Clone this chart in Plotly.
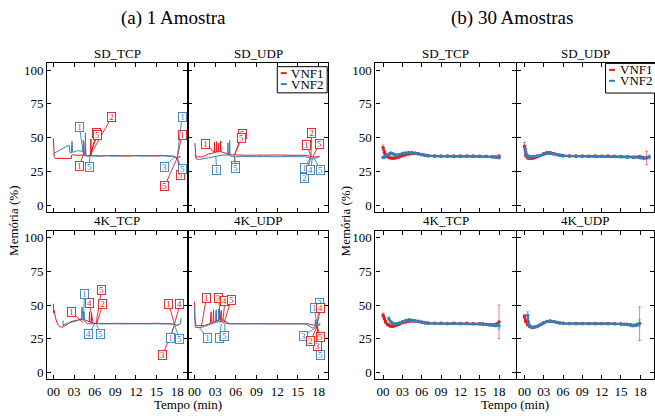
import plotly.graph_objects as go

RED = "#E41A1C"
BLUE = "#377EB8"
RED_ERR = "rgba(228,26,28,0.55)"
BLUE_ERR = "rgba(55,126,184,0.55)"
FONT = "'Liberation Serif', 'Times New Roman', Times, serif"
W, H = 655, 416

group_titles = ["(a) 1 Amostra", "(b) 30 Amostras"]
facet_titles = ["SD_TCP", "SD_UDP", "4K_TCP", "4K_UDP"]
series_names = ["VNF1", "VNF2"]
y_ticks = [0, 25, 50, 75, 100]
x_ticks = [0, 3, 6, 9, 12, 15, 18]
x_tick_text = ["00", "03", "06", "09", "12", "15", "18"]

# ---------------- (a) 1 Amostra ----------------
# SD_TCP
a_sdtcp_vnf1_t = [0.0, 0.05, 0.12, 0.3, 1.0, 2.0, 2.6, 2.65, 3.0, 3.5, 4.0, 4.35, 4.4, 4.45, 4.6, 4.65, 4.7, 5.0,
                  5.4, 5.45, 5.5, 6.0, 7.0, 8.0, 9.0, 10.0, 11.0, 12.0, 13.0, 14.0, 15.0, 16.0, 17.0, 17.5,
                  17.8, 18.0, 18.2, 18.4]
a_sdtcp_vnf1_v = [49.5, 42.0, 36.0, 34.5, 34.6, 34.5, 34.6, 37.0, 37.2, 36.9, 37.1, 37.0, 46.5, 37.0, 36.8, 45.0,
                  36.6, 36.5, 36.6, 49.0, 36.4, 36.6, 36.3, 36.7, 36.4, 36.6, 36.3, 36.7, 36.4, 36.6, 36.3, 36.7,
                  36.4, 36.2, 35.5, 34.8, 35.6, 35.9]
a_sdtcp_vnf2_t = [0.0, 0.5, 1.0, 1.5, 2.0, 2.3, 2.4, 2.6, 2.7, 2.8, 3.0, 3.5, 4.0, 4.3, 4.35, 4.4, 4.6, 4.65,
                  4.7, 4.9, 5.5, 6.5, 7.5, 8.5, 9.5, 10.5, 11.5, 12.5, 13.5, 14.5, 15.5, 16.5, 17.3, 17.7,
                  18.0, 18.3, 18.5]
a_sdtcp_vnf2_v = [38.0, 39.5, 41.0, 42.5, 43.8, 44.2, 38.8, 38.5, 47.5, 39.0, 39.5, 40.3, 40.0, 39.8, 48.0,
                  39.0, 37.0, 53.5, 36.5, 36.2, 36.5, 36.2, 36.6, 36.3, 36.5, 36.2, 36.6, 36.3, 36.5, 36.2,
                  36.6, 36.3, 36.0, 35.2, 34.5, 35.4, 36.0]
# SD_UDP
a_sdudp_vnf1_t = [0.05, 0.1, 0.2, 0.5, 1.0, 1.5, 2.0, 2.5, 2.85, 2.9, 2.95, 3.15, 3.2, 3.25, 3.45, 3.5, 3.55,
                  3.75, 3.8, 3.85, 4.2, 4.6, 5.0, 5.4, 5.8, 6.5, 7.5, 8.5, 9.5, 10.5, 11.5, 12.5, 13.5, 14.5,
                  15.5, 16.2, 16.6, 17.0, 17.4, 17.8, 18.1]
a_sdudp_vnf1_v = [46.0, 42.0, 35.5, 35.8, 35.6, 36.4, 37.8, 38.3, 38.8, 46.5, 39.0, 39.2, 47.0, 39.3, 39.4,
                  46.0, 39.5, 39.6, 47.5, 39.4, 39.0, 38.2, 37.6, 37.2, 37.0, 37.1, 36.9, 37.0, 37.1, 36.9,
                  37.0, 37.1, 36.9, 37.0, 37.1, 36.9, 36.3, 35.8, 35.6, 35.8, 36.0]
a_sdudp_vnf2_t = [0.05, 0.3, 0.7, 1.0, 1.5, 2.0, 2.5, 3.0, 3.5, 3.9, 4.3, 4.8, 4.85, 4.9, 5.05, 5.1, 5.15,
                  5.3, 5.6, 6.0, 7.0, 8.0, 9.0, 10.0, 11.0, 12.0, 13.0, 14.0, 15.0, 16.0, 16.6, 17.1, 17.5,
                  17.9, 18.2]
a_sdudp_vnf2_v = [37.0, 34.0, 33.8, 34.2, 34.6, 35.0, 35.5, 36.0, 36.5, 37.0, 37.2, 37.0, 46.0, 37.0, 36.6,
                  47.8, 36.5, 36.2, 35.9, 35.8, 35.9, 35.7, 35.8, 35.9, 35.7, 35.8, 35.9, 35.7, 35.8, 35.9,
                  35.2, 34.0, 34.6, 35.6, 36.0]
# 4K_TCP
a_4ktcp_vnf1_t = [0.0, 0.05, 0.1, 0.3, 0.6, 0.9, 1.2, 1.5, 2.0, 2.5, 3.0, 3.5, 4.0, 4.3, 4.6, 5.0, 5.2, 5.25,
                  5.3, 5.5, 5.55, 5.6, 5.8, 6.2, 6.5, 7.0, 8.0, 9.0, 10.0, 11.0, 12.0, 13.0, 14.0, 15.0, 16.0,
                  17.0, 17.5, 17.9, 18.3]
a_4ktcp_vnf1_v = [51.0, 44.0, 46.0, 40.5, 36.0, 34.0, 33.6, 34.0, 35.8, 37.5, 38.3, 38.8, 39.2, 39.5, 39.0,
                  38.0, 37.5, 45.0, 37.2, 37.0, 44.0, 36.8, 36.5, 36.4, 36.3, 36.5, 36.2, 36.4, 36.3, 36.5,
                  36.2, 36.4, 36.3, 36.5, 36.2, 36.3, 35.8, 35.0, 35.5]
a_4ktcp_vnf2_t = [1.4, 1.42, 1.5, 2.0, 2.5, 3.0, 3.5, 3.8, 4.1, 4.15, 4.2, 4.3, 4.4, 4.45, 4.5, 4.7, 5.0, 5.5,
                  6.0, 7.0, 8.0, 9.0, 10.0, 11.0, 12.0, 13.0, 14.0, 15.0, 16.0, 17.0, 17.5, 17.9, 18.3, 18.5,
                  18.55]
a_4ktcp_vnf2_v = [38.5, 34.6, 35.5, 36.3, 37.0, 37.8, 38.5, 39.5, 40.0, 48.5, 40.0, 39.8, 40.0, 45.0, 39.0,
                  37.0, 36.2, 36.0, 36.2, 36.0, 36.3, 36.1, 36.0, 36.3, 36.1, 36.0, 36.3, 36.1, 36.0, 36.2,
                  35.6, 34.8, 35.8, 36.0, 40.5]
# 4K_UDP
a_4kudp_vnf1_t = [0.0, 0.05, 0.2, 0.6, 1.0, 1.45, 2.0, 2.3, 2.4, 2.45, 2.7, 2.75, 2.8, 3.1, 3.15, 3.2, 3.5,
                  3.55, 3.6, 3.85, 3.9, 3.95, 4.3, 4.7, 5.0, 6.0, 7.0, 8.0, 9.0, 10.0, 11.0, 12.0, 13.0, 14.0,
                  15.0, 16.0, 16.5, 17.0, 17.5, 17.9, 18.2]
a_4kudp_vnf1_v = [52.5, 40.0, 34.6, 34.7, 34.6, 34.8, 35.8, 36.5, 45.0, 36.8, 37.2, 46.5, 37.5, 38.0, 45.5,
                  38.3, 38.8, 47.0, 39.2, 39.5, 46.0, 39.4, 38.5, 37.0, 36.3, 36.1, 36.2, 36.0, 36.1, 36.2,
                  36.0, 36.1, 36.2, 36.0, 36.1, 36.2, 36.1, 35.4, 34.8, 34.6, 35.6]
a_4kudp_vnf2_t = [0.0, 0.05, 0.1, 0.5, 1.0, 1.5, 2.2, 2.7, 3.1, 3.15, 3.2, 3.45, 3.5, 3.55, 3.8, 3.85, 3.9,
                  4.1, 4.5, 5.0, 6.0, 7.0, 8.0, 9.0, 10.0, 11.0, 12.0, 13.0, 14.0, 15.0, 16.0, 16.5, 17.1,
                  17.5, 17.55, 17.6, 18.0, 18.3]
a_4kudp_vnf2_v = [47.5, 38.0, 33.5, 33.3, 33.4, 34.2, 35.8, 36.5, 37.0, 46.5, 37.2, 37.5, 46.7, 37.6, 37.8,
                  45.0, 37.6, 37.0, 36.3, 36.0, 36.1, 35.9, 36.0, 36.1, 35.9, 36.0, 36.1, 35.9, 36.0, 36.1,
                  36.0, 35.0, 33.0, 34.0, 39.0, 34.5, 36.0, 36.2]

# labelled events (number, target time, target value, label time, label value)
a_sdtcp_vnf1_events = [(2, 5.3, 36.5, 8.5, 65.4), (5, 5.3, 36.5, 6.3, 53.5), (5, 5.3, 36.5, 6.4, 52.0),
                       (1, 4.3, 37.0, 3.8, 28.9), (5, 18.0, 35.0, 18.5, 22.5), (1, 18.0, 35.0, 18.7, 52.0),
                       (5, 18.0, 35.0, 16.2, 14.3)]
a_sdtcp_vnf2_events = [(1, 4.3, 40.0, 3.8, 57.6), (5, 5.3, 36.2, 5.2, 27.9), (1, 18.0, 35.0, 18.7, 65.0),
                       (3, 17.5, 35.2, 16.2, 28.4), (5, 18.0, 35.0, 18.7, 26.4)]
a_sdudp_vnf1_events = [(1, 3.0, 38.5, 1.55, 45.2), (5, 5.8, 37.0, 6.9, 52.5), (5, 5.8, 37.0, 6.8, 49.4),
                       (2, 16.9, 36.0, 17.0, 53.1), (1, 16.9, 36.0, 16.3, 44.4), (5, 17.2, 36.0, 18.1, 45.2)]
a_sdudp_vnf2_events = [(1, 3.1, 35.8, 3.2, 25.9), (5, 5.8, 35.8, 5.9, 28.8), (5, 5.8, 35.8, 6.0, 27.6),
                       (1, 16.9, 35.5, 15.9, 27.2), (2, 16.9, 35.5, 16.0, 19.7), (4, 17.1, 35.5, 16.9, 25.9),
                       (5, 17.3, 35.5, 18.3, 25.9)]
a_4ktcp_vnf1_events = [(1, 4.3, 37.0, 2.6, 44.9), (4, 5.8, 36.3, 5.2, 51.3), (5, 6.2, 36.3, 7.0, 61.2),
                       (2, 6.3, 36.3, 7.2, 50.6), (1, 17.6, 35.8, 16.8, 50.6), (4, 17.6, 35.8, 18.4, 50.6),
                       (3, 17.6, 35.0, 15.9, 13.0)]
a_4ktcp_vnf2_events = [(1, 4.35, 38.2, 4.5, 58.0), (4, 6.0, 35.8, 5.1, 28.4), (5, 6.3, 35.8, 6.8, 28.4),
                       (1, 17.6, 35.0, 17.0, 25.9), (5, 17.6, 35.0, 18.4, 24.7)]
a_4kudp_vnf1_events = [(1, 1.0, 34.0, 1.7, 55.0), (3, 3.8, 37.0, 3.5, 55.0), (4, 4.1, 37.0, 4.4, 53.0),
                       (5, 4.3, 37.0, 5.3, 53.5), (5, 17.8, 34.5, 18.3, 26.0), (3, 17.8, 34.5, 17.8, 19.7),
                       (2, 17.8, 34.5, 16.9, 23.4)]
a_4kudp_vnf2_events = [(1, 0.7, 33.3, 1.9, 25.2), (1, 3.9, 36.0, 3.6, 25.2), (5, 4.4, 36.0, 4.4, 27.1),
                       (3, 17.8, 34.0, 15.8, 27.1), (3, 17.8, 34.0, 18.1, 51.8), (1, 17.8, 34.0, 17.4, 48.1),
                       (5, 17.8, 34.0, 18.3, 12.8)]
a_4kudp_vnf1_events_top = [(4, 17.8, 35.8, 18.3, 47.6)]

# ---------------- (b) 30 Amostras ----------------
b_sdtcp_vnf1_t = [0.0, 0.2, 0.4, 0.6, 0.9, 1.2, 1.5, 1.8, 2.1, 2.5, 3.0, 3.5, 4.0, 4.5, 5.0, 5.5, 6.0, 6.5,
                  7.0, 8.0, 9.0, 10.0, 11.0, 12.0, 13.0, 14.0, 15.0, 16.0, 17.0, 17.5, 18.0]
b_sdtcp_vnf1_v = [42.5, 39.0, 37.0, 36.0, 35.3, 34.9, 34.7, 34.8, 35.1, 35.7, 36.5, 37.2, 37.8, 38.2, 38.3,
                  38.0, 37.5, 37.0, 36.6, 36.3, 36.3, 36.2, 36.3, 36.2, 36.3, 36.2, 36.2, 36.1, 35.8, 35.6, 35.9]
b_sdtcp_vnf1_e = [2.0, 1.5, 1.0, 0.8, 0.6, 0.5, 0.5, 0.5, 0.5, 0.5, 0.5, 0.5, 0.5, 0.5, 0.5, 0.5, 0.5, 0.4,
                  0.4, 0.3, 0.3, 0.3, 0.3, 0.3, 0.3, 0.3, 0.3, 0.4, 0.5, 0.6, 1.5]
b_sdtcp_vnf2_t = [0.0, 0.2, 0.4, 0.6, 0.9, 1.2, 1.5, 1.8, 2.1, 2.5, 3.0, 3.5, 4.0, 4.5, 5.0, 5.5, 6.0, 6.5,
                  7.0, 8.0, 9.0, 10.0, 11.0, 12.0, 13.0, 14.0, 15.0, 16.0, 17.0, 17.5, 18.0]
b_sdtcp_vnf2_v = [35.3, 35.6, 36.2, 37.0, 37.6, 38.4, 38.0, 37.2, 37.0, 37.5, 38.3, 38.6, 38.9, 38.9, 38.4,
                  37.8, 37.2, 36.8, 36.5, 36.3, 36.2, 36.3, 36.2, 36.3, 36.2, 36.3, 36.2, 36.0, 35.7, 35.5, 35.3]
b_sdtcp_vnf2_e = [0.8, 0.8, 0.9, 1.0, 1.0, 1.0, 0.8, 0.7, 0.6, 0.6, 0.6, 0.6, 0.6, 0.5, 0.5, 0.5, 0.4, 0.4,
                  0.4, 0.3, 0.3, 0.3, 0.3, 0.3, 0.3, 0.3, 0.3, 0.4, 0.5, 0.6, 1.0]
b_sdudp_vnf1_t = [0.0, 0.2, 0.5, 0.8, 1.2, 1.6, 2.0, 2.5, 3.0, 3.5, 4.0, 4.5, 5.0, 5.5, 6.0, 7.0, 8.0, 9.0,
                  10.0, 11.0, 12.0, 13.0, 14.0, 15.0, 16.0, 17.0, 17.9, 18.4, 19.0]
b_sdudp_vnf1_v = [43.5, 37.0, 35.0, 34.6, 34.6, 35.0, 35.8, 36.8, 38.0, 38.8, 38.8, 38.2, 37.5, 37.0, 36.6,
                  36.4, 36.3, 36.3, 36.2, 36.3, 36.2, 36.3, 36.2, 36.0, 35.8, 35.5, 35.8, 35.2, 35.0]
b_sdudp_vnf1_e = [3.0, 1.5, 1.0, 0.7, 0.6, 0.5, 0.5, 0.5, 0.5, 0.5, 0.5, 0.5, 0.4, 0.4, 0.4, 0.3, 0.3, 0.3,
                  0.3, 0.3, 0.3, 0.3, 0.3, 0.4, 0.4, 0.5, 1.0, 1.0, 5.0]
b_sdudp_vnf2_t = [0.15, 0.3, 0.6, 0.9, 1.2, 1.6, 2.0, 2.5, 3.0, 3.5, 4.0, 4.5, 5.0, 5.5, 6.0, 7.0, 8.0, 9.0,
                  10.0, 11.0, 12.0, 13.0, 14.0, 15.0, 16.0, 17.0, 18.0, 18.6, 19.4]
b_sdudp_vnf2_v = [41.5, 37.5, 36.0, 35.6, 35.8, 36.0, 36.3, 36.8, 37.6, 38.2, 38.2, 37.8, 37.2, 36.8, 36.5,
                  36.3, 36.2, 36.2, 36.1, 36.2, 36.1, 36.2, 36.0, 35.8, 35.5, 35.3, 35.0, 34.6, 35.6]
b_sdudp_vnf2_e = [3.0, 2.0, 1.2, 0.8, 0.7, 0.6, 0.6, 0.5, 0.5, 0.5, 0.5, 0.5, 0.4, 0.4, 0.4, 0.3, 0.3, 0.3,
                  0.3, 0.3, 0.3, 0.3, 0.3, 0.4, 0.4, 0.5, 0.6, 0.8, 1.5]
b_4ktcp_vnf1_t = [0.0, 0.2, 0.4, 0.7, 1.0, 1.3, 1.6, 2.0, 2.5, 3.0, 3.5, 4.0, 4.5, 5.0, 5.5, 6.0, 6.5, 7.0,
                  8.0, 9.0, 10.0, 11.0, 12.0, 13.0, 14.0, 15.0, 15.5, 16.0, 16.5, 17.0, 17.5, 18.0]
b_4ktcp_vnf1_v = [42.5, 40.0, 37.5, 35.5, 34.6, 34.2, 34.3, 34.8, 35.8, 36.8, 37.5, 38.0, 38.2, 38.2, 37.9,
                  37.4, 36.9, 36.6, 36.4, 36.4, 36.3, 36.4, 36.3, 36.4, 36.3, 36.2, 36.0, 35.6, 35.4, 35.2,
                  35.5, 37.5]
b_4ktcp_vnf1_e = [1.5, 1.2, 1.0, 0.8, 0.6, 0.5, 0.5, 0.5, 0.5, 0.5, 0.5, 0.5, 0.5, 0.5, 0.5, 0.4, 0.4, 0.4,
                  0.3, 0.3, 0.3, 0.3, 0.3, 0.3, 0.3, 0.4, 0.4, 0.5, 0.5, 0.6, 1.0, 12.5]
b_4ktcp_vnf2_t = [0.9, 1.2, 1.5, 2.0, 2.5, 3.0, 3.5, 4.0, 4.5, 5.0, 5.5, 6.0, 6.5, 7.0, 8.0, 9.0, 10.0, 11.0,
                  12.0, 13.0, 14.0, 15.0, 15.5, 16.0, 16.5, 17.0, 17.5, 18.0]
b_4ktcp_vnf2_v = [39.8, 37.5, 36.5, 36.0, 36.6, 37.6, 38.6, 39.0, 38.8, 38.2, 37.6, 37.0, 36.6, 36.4, 36.3,
                  36.3, 36.2, 36.3, 36.2, 36.3, 36.2, 36.1, 35.9, 35.6, 35.2, 35.0, 34.8, 34.6]
b_4ktcp_vnf2_e = [1.5, 1.0, 0.8, 0.6, 0.6, 0.6, 0.6, 0.6, 0.5, 0.5, 0.5, 0.4, 0.4, 0.4, 0.3, 0.3, 0.3, 0.3,
                  0.3, 0.3, 0.3, 0.4, 0.4, 0.5, 0.6, 0.7, 1.0, 2.5]
b_4kudp_vnf1_t = [0.0, 0.2, 0.5, 0.8, 1.1, 1.4, 1.8, 2.2, 2.6, 3.0, 3.5, 4.0, 4.5, 5.0, 5.5, 6.0, 7.0, 8.0,
                  9.0, 10.0, 11.0, 12.0, 13.0, 14.0, 15.0, 15.5, 16.0, 16.5, 17.0, 17.5, 17.9]
b_4kudp_vnf1_v = [41.5, 38.0, 35.5, 34.0, 33.3, 33.3, 33.8, 34.6, 35.8, 36.8, 37.8, 38.2, 37.8, 37.2, 36.7,
                  36.4, 36.3, 36.2, 36.3, 36.2, 36.3, 36.2, 36.3, 36.2, 36.0, 35.8, 35.6, 35.2, 35.0, 35.5,
                  36.2]
b_4kudp_vnf1_e = [1.5, 1.2, 1.0, 0.7, 0.6, 0.5, 0.5, 0.5, 0.5, 0.5, 0.5, 0.5, 0.5, 0.4, 0.4, 0.4, 0.3, 0.3,
                  0.3, 0.3, 0.3, 0.3, 0.3, 0.3, 0.4, 0.4, 0.5, 0.5, 0.6, 0.8, 12.5]
b_4kudp_vnf2_t = [0.5, 0.6, 0.8, 1.1, 1.5, 2.0, 2.5, 3.0, 3.5, 4.0, 4.5, 5.0, 5.5, 6.0, 7.0, 8.0, 9.0, 10.0,
                  11.0, 12.0, 13.0, 14.0, 15.0, 16.0, 16.5, 16.8, 17.3, 17.9]
b_4kudp_vnf2_v = [42.5, 37.0, 34.6, 33.5, 33.6, 34.3, 35.6, 36.9, 37.8, 38.0, 37.6, 37.0, 36.6, 36.4, 36.2,
                  36.3, 36.2, 36.3, 36.2, 36.3, 36.2, 36.1, 36.0, 35.8, 35.2, 34.6, 34.8, 36.5]
b_4kudp_vnf2_e = [2.5, 1.5, 1.0, 0.8, 0.6, 0.5, 0.5, 0.5, 0.5, 0.5, 0.5, 0.4, 0.4, 0.4, 0.3, 0.3, 0.3, 0.3,
                  0.3, 0.3, 0.3, 0.3, 0.3, 0.4, 0.5, 0.6, 0.8, 2.5]

# ---------------- layout helpers ----------------
def px_x(p):
    return p / W


def px_y(p):
    return 1 - p / H


col_px = [(47.3, 187.8), (188.3, 329.0), (376.0, 517.2), (517.6, 655.0)]
row_px = [(62.7, 211.8), (231.0, 380.0)]
x_ranges = [[-0.9, 19.5], [-0.95, 19.45], [-1.19, 20.7], [-1.19, 20.14]]
y_range = [-5, 105]

# panel index -> (row, col, facet)
panel_layout = [(0, 0, 0), (0, 1, 1), (1, 0, 2), (1, 1, 3),
                (0, 2, 0), (0, 3, 1), (1, 2, 2), (1, 3, 3)]

one_sample = [
    (a_sdtcp_vnf1_t, a_sdtcp_vnf1_v, a_sdtcp_vnf2_t, a_sdtcp_vnf2_v),
    (a_sdudp_vnf1_t, a_sdudp_vnf1_v, a_sdudp_vnf2_t, a_sdudp_vnf2_v),
    (a_4ktcp_vnf1_t, a_4ktcp_vnf1_v, a_4ktcp_vnf2_t, a_4ktcp_vnf2_v),
    (a_4kudp_vnf1_t, a_4kudp_vnf1_v, a_4kudp_vnf2_t, a_4kudp_vnf2_v),
]
one_events = [
    (a_sdtcp_vnf1_events, a_sdtcp_vnf2_events),
    (a_sdudp_vnf1_events, a_sdudp_vnf2_events),
    (a_4ktcp_vnf1_events, a_4ktcp_vnf2_events),
    (a_4kudp_vnf2_events, a_4kudp_vnf1_events + a_4kudp_vnf1_events_top),
]
one_events_colors = [(RED, BLUE), (RED, BLUE), (RED, BLUE), (BLUE, RED)]
thirty = [
    (b_sdtcp_vnf1_t, b_sdtcp_vnf1_v, b_sdtcp_vnf1_e, b_sdtcp_vnf2_t, b_sdtcp_vnf2_v, b_sdtcp_vnf2_e),
    (b_sdudp_vnf1_t, b_sdudp_vnf1_v, b_sdudp_vnf1_e, b_sdudp_vnf2_t, b_sdudp_vnf2_v, b_sdudp_vnf2_e),
    (b_4ktcp_vnf1_t, b_4ktcp_vnf1_v, b_4ktcp_vnf1_e, b_4ktcp_vnf2_t, b_4ktcp_vnf2_v, b_4ktcp_vnf2_e),
    (b_4kudp_vnf1_t, b_4kudp_vnf1_v, b_4kudp_vnf1_e, b_4kudp_vnf2_t, b_4kudp_vnf2_v, b_4kudp_vnf2_e),
]


def axname(letter, i):
    return letter if i == 1 else f"{letter}{i}"


fig = go.Figure()
layout = {}
annotations = []
shapes = []

for idx, (row, col, facet) in enumerate(panel_layout):
    i = idx + 1
    xa, ya = axname("x", i), axname("y", i)
    x0, x1 = col_px[col]
    y0, y1 = row_px[row]
    common = dict(showline=True, linecolor="black", linewidth=1.2, mirror="allticks",
                  ticks="inside", ticklen=4, tickwidth=1, tickcolor="black",
                  showgrid=False, zeroline=False,
                  tickfont=dict(family=FONT, size=13, color="black"))
    layout["xaxis" if i == 1 else f"xaxis{i}"] = dict(
        common, domain=[px_x(x0), px_x(x1)], anchor=ya, range=x_ranges[col],
        tickmode="array", tickvals=x_ticks, ticktext=x_tick_text,
        showticklabels=(row == 1))
    layout["yaxis" if i == 1 else f"yaxis{i}"] = dict(
        common, domain=[px_y(y1), px_y(y0)], anchor=xa, range=y_range,
        tickmode="array", tickvals=y_ticks, showticklabels=(col in (0, 2)))
    annotations.append(dict(text=facet_titles[facet], xref="paper", yref="paper",
                            x=px_x((x0 + x1) / 2), y=px_y(y0 - 10), xanchor="center",
                            yanchor="middle", showarrow=False,
                            font=dict(family=FONT, size=13, color="black")))

    if idx < 4:
        t1, v1, t2, v2 = one_sample[facet]
        fig.add_trace(go.Scatter(x=t1, y=v1, xaxis=xa, yaxis=ya, mode="lines",
                                 line=dict(color=RED, width=1), name=series_names[0]))
        fig.add_trace(go.Scatter(x=t2, y=v2, xaxis=xa, yaxis=ya, mode="lines",
                                 line=dict(color=BLUE, width=1), name=series_names[1]))
        for evs, colr in zip(one_events[facet], one_events_colors[facet]):
            for (n, tx, ty, lx, ly) in evs:
                annotations.append(dict(
                    x=tx, y=ty, xref=xa, yref=ya, ax=lx, ay=ly, axref=xa, ayref=ya,
                    text=str(n), showarrow=True, arrowhead=0, arrowwidth=0.9,
                    arrowcolor=colr, standoff=0, startstandoff=0,
                    font=dict(family=FONT, size=9, color=colr),
                    bordercolor=colr, borderwidth=0.9, borderpad=0, bgcolor="white",
                    width=7, height=8))
    else:
        t1, v1, e1, t2, v2, e2 = thirty[facet]
        fig.add_trace(go.Scatter(x=t1, y=v1, xaxis=xa, yaxis=ya, mode="lines+markers",
                                 line=dict(color=RED, width=2.2),
                                 marker=dict(color=RED, size=3.5),
                                 error_y=dict(type="data", array=e1, color=RED_ERR,
                                              thickness=1, width=1.5),
                                 name=series_names[0]))
        fig.add_trace(go.Scatter(x=t2, y=v2, xaxis=xa, yaxis=ya, mode="lines+markers",
                                 line=dict(color=BLUE, width=2.2),
                                 marker=dict(color=BLUE, size=3.5),
                                 error_y=dict(type="data", array=e2, color=BLUE_ERR,
                                              thickness=1, width=1.5),
                                 name=series_names[1]))

# legends drawn manually (short line keys)
legend_boxes = [(277.7, 66.0, 327.7, 92.3), (606.5, 62.7, 660.0, 92.5)]
for (lx0, ly0, lx1, ly1) in legend_boxes:
    shapes.append(dict(type="rect", xref="paper", yref="paper",
                       x0=px_x(lx0), x1=px_x(lx1), y0=px_y(ly1), y1=px_y(ly0),
                       line=dict(color="black", width=1), fillcolor="white", layer="above"))
    for k, (name, colr) in enumerate(zip(series_names, [RED, BLUE])):
        yy = ly0 + 6.5 + k * 11
        shapes.append(dict(type="line", xref="paper", yref="paper",
                           x0=px_x(lx0 + 3.5), x1=px_x(lx0 + 9.5), y0=px_y(yy), y1=px_y(yy),
                           line=dict(color=colr, width=2), layer="above"))
        annotations.append(dict(text=name, xref="paper", yref="paper", x=px_x(lx0 + 12),
                                y=px_y(yy), xanchor="left", yanchor="middle", showarrow=False,
                                font=dict(family=FONT, size=13, color="black")))

# group titles and axis titles
for gx, title in zip([174, 513], group_titles):
    annotations.append(dict(text=title, xref="paper", yref="paper", x=px_x(gx), y=px_y(17),
                            xanchor="center", yanchor="middle", showarrow=False,
                            font=dict(family=FONT, size=19, color="black")))
for gx in [188, 516]:
    annotations.append(dict(text="Tempo (min)", xref="paper", yref="paper", x=px_x(gx),
                            y=px_y(405), xanchor="center", yanchor="middle", showarrow=False,
                            font=dict(family=FONT, size=13, color="black")))
for gx in [14, 346]:
    annotations.append(dict(text="Memória (%)", xref="paper", yref="paper", x=px_x(gx),
                            y=px_y(221), xanchor="center", yanchor="middle", showarrow=False,
                            textangle=-90, font=dict(family=FONT, size=13, color="black")))

fig.update_layout(**layout)
fig.update_layout(width=W, height=H, margin=dict(l=0, r=0, t=0, b=0),
                  paper_bgcolor="white", plot_bgcolor="white", showlegend=False,
                  annotations=annotations, shapes=shapes,
                  font=dict(family=FONT, color="black"))
fig.write_html("out.html", config={"displayModeBar": False},
               post_script="document.body.style.margin='0';document.body.style.padding='0';")
